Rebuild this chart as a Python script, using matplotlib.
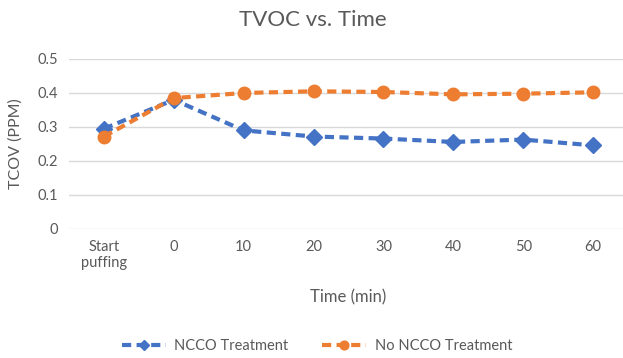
import matplotlib.pyplot as plt

# Data
labels = ['Start\npuffing', '0', '10', '20', '30', '40', '50', '60']
ncco = [0.295, 0.38, 0.29, 0.272, 0.266, 0.256, 0.263, 0.246]
no_ncco = [0.272, 0.385, 0.40, 0.405, 0.403, 0.396, 0.398, 0.402]

plt.rcParams['font.family'] = ['Lato', 'DejaVu Sans']
grey = '#595959'

fig = plt.figure(figsize=(6.23, 3.58), dpi=100)
ax = fig.add_axes([69/623, (358-229)/358, 559/623, 170/358])

x = range(len(labels))
ax.plot(x, ncco, color='#4472C4', lw=3, ls=(0, (2.2, 1.3)), marker='D',
        markersize=8, label='NCCO Treatment', zorder=3)
ax.plot(x, no_ncco, color='#ED7D31', lw=3, ls=(0, (2.2, 1.3)), marker='o',
        markersize=9, label='No NCCO Treatment', zorder=3)

ax.set_xlim(-0.5, 7.5)
ax.set_ylim(0, 0.5)
ax.set_yticks([0, 0.1, 0.2, 0.3, 0.4, 0.5])
ax.set_yticklabels(['0', '0.1', '0.2', '0.3', '0.4', '0.5'])
ax.set_xticks(list(x))
ax.set_xticklabels(labels)
ax.grid(axis='y', color='#D9D9D9', lw=1)
ax.set_axisbelow(True)
for s in ax.spines.values():
    s.set_visible(False)
ax.tick_params(length=0, labelsize=10.5, colors=grey, pad=8)

fig.text(313/623, 1-20/358, 'TVOC vs. Time', fontsize=16, color=grey,
         ha='center', va='center')
ax.set_xlabel('Time (min)', fontsize=12, color=grey)
ax.set_ylabel('TCOV (PPM)', fontsize=11.5, color=grey)
ax.xaxis.set_label_coords((348-69)/559, -(297-229)/170)
ax.xaxis.label.set_va('center')
ax.yaxis.set_label_coords(-(69-16)/559, (229-143.5)/170)
ax.yaxis.label.set_va('center')

leg = fig.legend(loc='center', bbox_to_anchor=(317/623, 1-346/358), ncol=2,
                 frameon=False, fontsize=10.5, handlelength=3, columnspacing=2.3,
                 handletextpad=0.6, markerscale=0.7)
for t in leg.get_texts():
    t.set_color(grey)

plt.savefig('out.png', dpi=100)
